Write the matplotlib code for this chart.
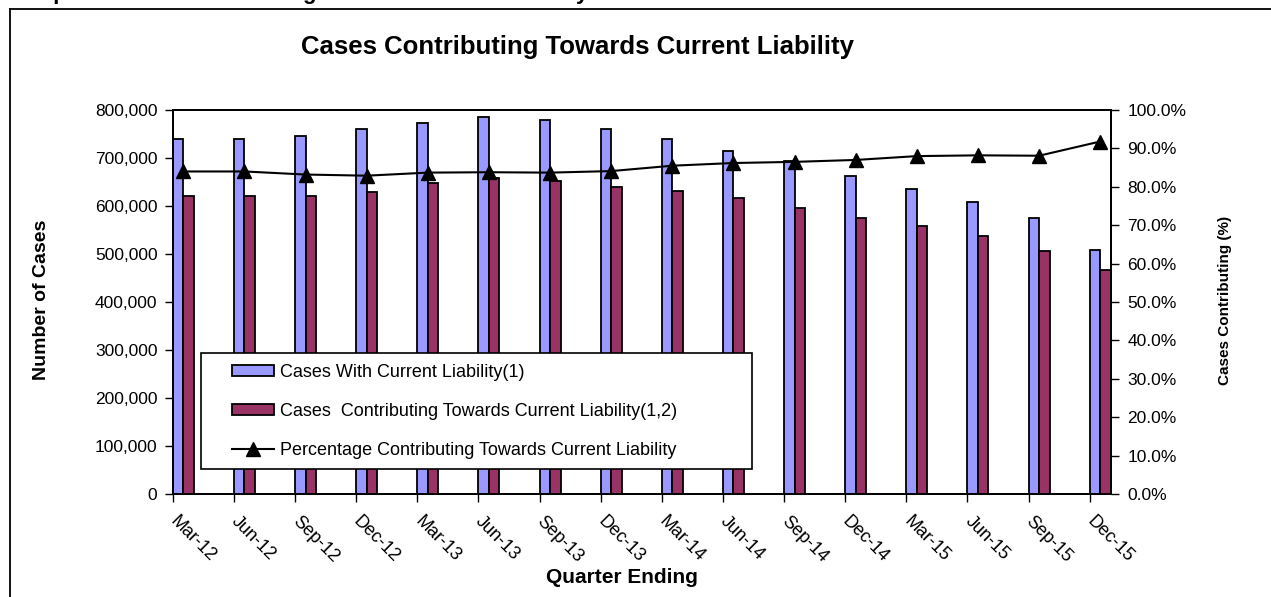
import numpy as np
import matplotlib.pyplot as plt
from matplotlib.patches import Rectangle, Patch
from matplotlib.lines import Line2D
from matplotlib.ticker import FuncFormatter

plt.rcParams['font.family'] = ['Liberation Sans', 'DejaVu Sans']

quarters = ['Mar-12', 'Jun-12', 'Sep-12', 'Dec-12', 'Mar-13', 'Jun-13', 'Sep-13', 'Dec-13',
            'Mar-14', 'Jun-14', 'Sep-14', 'Dec-14', 'Mar-15', 'Jun-15', 'Sep-15', 'Dec-15']
with_liability = [739000, 740000, 746000, 760000, 773000, 785000, 779000, 760000,
                  739000, 714000, 694000, 662000, 636000, 609000, 575000, 508000]
contributing = [620000, 621000, 621000, 629000, 647000, 658000, 652000, 639000,
                632000, 616000, 595000, 575000, 559000, 537000, 506000, 467000]
pct_contributing = [84.0, 84.0, 83.2, 82.9, 83.7, 83.8, 83.7, 84.1,
                    85.5, 86.2, 86.5, 87.0, 88.0, 88.2, 88.1, 91.8]

blue = '#9999FF'
plum = '#993366'

fig = plt.figure(figsize=(12.71, 5.97), dpi=100)
ax = fig.add_axes([0.1359, 0.1725, 0.7380, 0.6432])
ax2 = ax.twinx()

x = np.arange(len(quarters))
w = 0.172
ax.bar(x, with_liability, width=w, align='edge', color=blue, edgecolor='black', linewidth=1.3)
ax.bar(x + w, contributing, width=w, align='edge', color=plum, edgecolor='black', linewidth=1.3)
ax2.plot(x + w, pct_contributing, color='black', linewidth=1.5, marker='^', markersize=9.5)

ax.set_xlim(0, len(quarters) - 1 + 2 * w)
ax.set_ylim(0, 800000)
ax2.set_ylim(0, 100)
ax.set_yticks(np.arange(0, 800001, 100000))
ax2.set_yticks(np.arange(0, 101, 10))
ax.yaxis.set_major_formatter(FuncFormatter(lambda v, p: f'{int(v):,}'))
ax2.yaxis.set_major_formatter(FuncFormatter(lambda v, p: f'{v:.1f}%'))
ax.set_xticks(x)
ax.set_xticklabels(quarters, rotation=-45, ha='left', va='center', rotation_mode='anchor')

for a in (ax, ax2):
    a.tick_params(direction='out', length=6, width=1, labelsize=12.5, colors='black')
    for s in a.spines.values():
        s.set_linewidth(1.3)
ax.tick_params(axis='x', pad=12, labelsize=13)
ax.tick_params(axis='y', pad=5)
ax2.tick_params(axis='y', pad=6)

# legend box
ax2.add_patch(Rectangle((0.0299, 0.0651), 0.5877, 0.3013, transform=ax2.transAxes,
                        facecolor='white', edgecolor='black', linewidth=1.2, zorder=4))
handles = [Patch(facecolor=blue, edgecolor='black', linewidth=1.3),
           Patch(facecolor=plum, edgecolor='black', linewidth=1.3),
           Line2D([], [], color='black', linewidth=1.5, marker='^', markersize=9.5)]
labels = ['Cases With Current Liability(1)',
          'Cases  Contributing Towards Current Liability(1,2)',
          'Percentage Contributing Towards Current Liability']
leg = ax2.legend(handles, labels, loc='upper left', bbox_to_anchor=(0.0629, 0.338),
                 frameon=False, fontsize=13, handlelength=2.35, handleheight=0.55,
                 handletextpad=0.35, labelspacing=1.22, borderpad=0, borderaxespad=0)
leg.set_zorder(5)

fig.text(0.454, 0.921, 'Cases Contributing Towards Current Liability', ha='center', va='center',
         fontsize=18.5, fontweight='bold')
fig.text(0.033, 0.497, 'Number of Cases', rotation=90, ha='center', va='center',
         fontsize=14, fontweight='bold')
fig.text(0.489, 0.032, 'Quarter Ending', ha='center', va='center', fontsize=15, fontweight='bold')
fig.text(0.964, 0.497, 'Cases Contributing (%)', rotation=90, ha='center', va='center',
         fontsize=11, fontweight='bold')

# heading of the page, cut off by the top edge as in the source, and outer chart border
fig.text(0.012, 1.0 + 1 / 597, 'Graph 2: Cases Contributing Towards Current Liability',
         ha='left', va='baseline', fontsize=16, fontweight='bold')
fig.add_artist(Line2D([10 / 1271, 1.0], [1 - 9 / 597, 1 - 9 / 597], transform=fig.transFigure,
                      color='black', linewidth=1.3))
fig.add_artist(Line2D([10 / 1271, 10 / 1271], [0, 1 - 9 / 597], transform=fig.transFigure,
                      color='black', linewidth=1.3))

fig.savefig('out.png', dpi=100)
